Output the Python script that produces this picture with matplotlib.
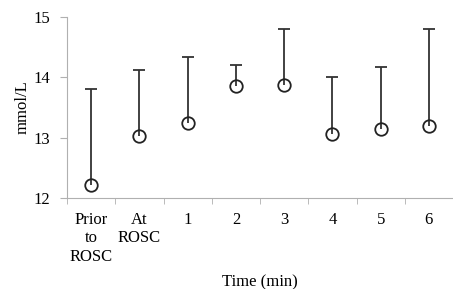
import matplotlib
matplotlib.use('Agg')
import matplotlib.pyplot as plt
import numpy as np

## Values
labels = ['Prior\nto\nROSC', 'At\nROSC', '1', '2', '3', '4', '5', '6']
means = [12.22, 13.03, 13.24, 13.86, 13.88, 13.06, 13.14, 13.19]
uppers = [13.81, 14.13, 14.34, 14.20, 14.81, 14.00, 14.18, 14.80]

plt.rcParams['font.family'] = 'Liberation Serif'

fig = plt.figure(figsize=(4.53, 2.89), dpi=100)
ax = fig.add_axes([0.148, 0.315, 0.852, 0.626])

x = np.arange(len(labels))
ax.vlines(x, means, uppers, color='#333333', lw=1.3)
ax.plot(x, uppers, ls='none', marker='_', ms=9, mew=1.3, color='#333333')
ax.plot(x, means, ls='none', marker='o', ms=9, mfc='none', mec='#222222', mew=1.3)

ax.set_xlim(-0.5, len(labels) - 0.5)
ax.set_ylim(12, 15)
ax.set_yticks([12, 13, 14, 15])
ax.set_xticks(x)
ax.set_xticklabels(labels, linespacing=1.2)
ax.set_xticks(np.arange(-0.5, len(labels)), minor=True)
ax.tick_params(axis='x', which='major', length=0, pad=10, labelsize=12)
ax.tick_params(axis='x', which='minor', length=4, color='#b0b0b0')
ax.tick_params(axis='y', length=5, color='#b0b0b0', pad=7, labelsize=12)

for s in ['top', 'right']:
    ax.spines[s].set_visible(False)
for s in ['left', 'bottom']:
    ax.spines[s].set_color('#b0b0b0')

ax.set_ylabel('mmol/L', fontsize=12, labelpad=2)
ax.set_xlabel('Time (min)', fontsize=12, labelpad=7)

fig.savefig('out.png', dpi=100)
